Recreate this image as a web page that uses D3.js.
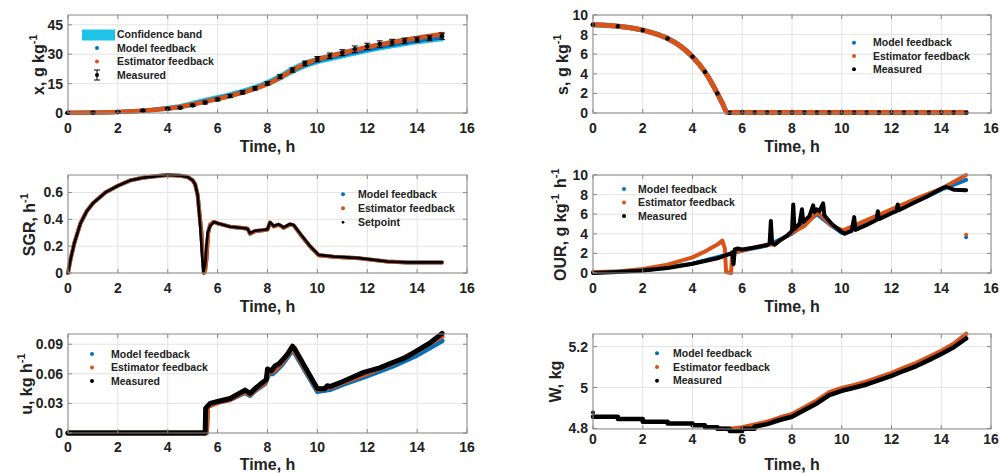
<!DOCTYPE html>
<html>
<head>
<meta charset="utf-8">
<script src="https://cdn.jsdelivr.net/npm/d3@7"></script>
<style>
  body { margin: 0; background: #fff; }
  svg { display: block; font-family: "Liberation Sans", Arial, sans-serif; font-weight: bold; }
</style>
</head>
<body>
<svg id="chart" width="1000" height="473"></svg>
<script>
// ---- shared ----
const timeTicks = [0, 2, 4, 6, 8, 10, 12, 14, 16];

// ---- panel 1: biomass x ----
const xMeasT = [0,1,2,3,4,4.5,5,5.5,6,6.5,7,7.5,8,8.5,9,9.5,10,10.5,11,11.5,12,12.5,13,13.5,14,14.5,15];
const xMeas = [0.1,0.2,0.5,1.2,2.2,2.7,3.9,5.3,6.9,8.7,10.5,12.6,15.1,18.5,21.9,25.3,27.5,29.2,30.8,32.5,34.0,35.2,36.1,36.8,37.4,38.2,39.2];
const xMeasErr = [0.3,0.3,0.3,0.4,0.5,0.5,0.6,0.7,0.7,0.8,0.8,0.9,0.9,1.0,1.1,1.2,1.3,1.4,1.5,1.7,1.6,1.6,1.5,1.4,1.3,1.3,1.6];
const xCurveT = xMeasT;
const xEst = [0.1,0.2,0.5,1.1,2.3,3.1,4.3,5.8,7.2,8.7,10.4,12.4,14.8,18.0,21.8,25.0,27.4,29.0,30.6,32.1,33.6,34.9,36.1,37.2,38.3,39.3,40.3];
const xModel = [0.1,0.2,0.5,1.1,2.4,3.2,4.5,6.1,7.5,9.0,10.7,12.7,15.1,18.2,21.6,24.4,26.6,28.1,29.6,31.0,32.4,33.6,34.8,35.8,36.8,37.7,38.5];
const xBandLo = [0,0.1,0.3,0.8,1.9,2.7,3.9,5.4,6.8,8.3,10.0,12.0,14.3,17.3,20.6,23.5,25.6,27.1,28.6,30.0,31.4,32.6,33.8,34.8,35.8,36.6,37.3];
const xBandHi = [0.3,0.4,0.8,1.5,3.0,3.9,5.4,7.0,8.4,9.9,11.6,13.7,16.2,19.4,23.0,25.9,28.0,29.5,31.1,32.6,34.1,35.3,36.6,37.6,38.7,39.6,40.5];

// ---- panel 2: substrate s ----
const sMeasT = [0,1,2,3,4,4.5,5,5.5,6,6.5,7,7.5,8,8.5,9,9.5,10,10.5,11,11.5,12,12.5,13,13.5,14,14.5,15];
const sMeas = [9.0,8.85,8.45,7.6,5.75,4.2,2.0,0.03,0.08,0.06,0.06,0.05,0.05,0.05,0.05,0.05,0.05,0.05,0.05,0.05,0.05,0.05,0.05,0.05,0.05,0.05,0.04];
const sCurveT = [0,0.5,1,1.5,2,2.5,3,3.5,4,4.5,5,5.2,5.4,5.5,6,8,10,12,14,15];
const sEst = [9.0,8.96,8.86,8.7,8.46,8.1,7.6,6.85,5.75,4.2,2.0,1.0,0.05,0.04,0.05,0.04,0.04,0.04,0.04,0.04];
const sModel = [9.0,8.96,8.86,8.7,8.46,8.1,7.6,6.85,5.75,4.2,2.0,1.0,0.05,0.04,0.05,0.04,0.04,0.04,0.04,0.04];

// ---- panel 3: specific growth rate ----
const sgrT = [0,0.1,0.25,0.5,0.75,1,1.5,2,2.5,3,3.5,4,4.5,4.8,5.0,5.1,5.2,5.3,5.38,5.43,5.5,5.55,5.6,5.7,5.85,6,6.5,7,7.2,7.3,7.5,7.8,8.0,8.1,8.25,8.45,8.65,8.9,9.05,9.3,9.7,10.05,10.65,11.7,12.8,13.6,15];
const sgrSet = [0,0.1,0.22,0.37,0.46,0.52,0.6,0.65,0.69,0.71,0.72,0.73,0.725,0.715,0.69,0.66,0.58,0.35,0.12,0.01,0.06,0.2,0.3,0.35,0.38,0.37,0.345,0.335,0.33,0.296,0.315,0.32,0.326,0.378,0.35,0.363,0.34,0.365,0.358,0.296,0.202,0.135,0.123,0.111,0.086,0.079,0.079];
const sgrEstT = [0,0.1,0.25,0.5,0.75,1,1.5,2,2.5,3,3.5,4,4.5,4.8,5.0,5.1,5.2,5.35,5.45,5.5,5.55,5.62,5.7,5.85,6,6.5,7,7.2,7.3,7.5,7.8,8.0,8.1,8.25,8.45,8.65,8.9,9.05,9.3,9.7,10.05,10.65,11.7,12.8,13.6,15];
const sgrEst = [0,0.1,0.22,0.37,0.46,0.52,0.6,0.65,0.69,0.71,0.72,0.73,0.725,0.715,0.69,0.66,0.58,0.3,0.0,0.02,0.1,0.3,0.36,0.38,0.37,0.345,0.335,0.33,0.293,0.312,0.318,0.324,0.375,0.347,0.36,0.337,0.362,0.355,0.293,0.2,0.133,0.121,0.109,0.085,0.078,0.078];

// ---- panel 4: oxygen uptake rate ----
const ourMeasT = [0,1,2,3,4,5,5.5,5.6,5.65,5.7,5.8,6,6.5,7,7.1,7.15,7.2,7.3,7.5,7.8,8.0,8.05,8.1,8.3,8.4,8.45,8.7,8.85,8.9,9.0,9.1,9.25,9.3,9.6,10,10.1,10.4,10.5,10.55,11,11.4,11.45,11.5,12,12.2,12.25,12.3,13,13.5,14,14.2,14.5,15];
const ourMeas = [0.0,0.1,0.25,0.5,0.95,1.5,1.95,2.1,0.9,2.4,2.5,2.4,2.6,2.85,3.0,5.3,3.1,2.9,3.3,3.8,4.3,7.0,4.5,5.0,6.5,5.2,5.8,6.9,6.2,6.5,6.3,7.1,5.9,5.0,4.2,4.0,4.3,5.7,4.4,4.9,5.4,6.3,5.5,6.1,6.3,7.0,6.4,7.3,7.9,8.6,8.8,8.5,8.45];
const ourEstT = [0,1,2,3,4,4.5,5,5.2,5.3,5.35,5.55,5.6,6,6.5,7,7.3,7.5,8,8.5,8.8,9,9.3,9.6,10,10.1,11,12,13,14,15];
const ourEst = [0.1,0.15,0.4,0.85,1.6,2.2,2.9,3.3,2.5,0.1,0.0,2.1,2.3,2.6,2.9,2.9,3.3,4.1,4.8,5.6,6.2,5.6,4.8,4.4,4.4,5.4,6.5,7.6,8.6,10.0];
const ourModelT = [0,2,4,5.5,6,7,8,9,9.5,10,11,12,13,14,15];
const ourModel = [0.05,0.25,0.95,1.95,2.3,2.8,4.0,6.0,5.0,4.1,5.1,6.2,7.3,8.5,9.5];
const ourOutlierT = [15];
const ourOutlierEst = [3.9];
const ourOutlierModel = [3.65];

// ---- panel 5: feed rate u ----
const uMeasT = [0,5.5,5.52,5.7,6,6.5,7.1,7.3,7.5,7.84,7.95,8.0,8.15,8.3,8.45,8.6,8.8,9.0,9.1,10.0,10.3,10.4,10.5,11,11.86,12.5,13.07,13.5,14.1,14.5,15];
const uMeas = [0,0,0.025,0.03,0.032,0.035,0.0435,0.04,0.045,0.052,0.054,0.065,0.063,0.068,0.070,0.074,0.08,0.088,0.085,0.045,0.045,0.048,0.047,0.052,0.0615,0.066,0.072,0.076,0.085,0.091,0.101];
const uEstT = [0,5.55,5.6,6,6.5,7.1,7.3,7.5,7.9,8.05,8.2,8.45,8.6,9.0,9.1,10,10.5,11,12,13,14,15];
const uEst = [0,0,0.027,0.031,0.034,0.042,0.039,0.044,0.051,0.062,0.062,0.068,0.072,0.086,0.083,0.044,0.046,0.051,0.0605,0.0705,0.083,0.098];
const uModel = [0,0,0.027,0.031,0.034,0.041,0.038,0.043,0.05,0.06,0.06,0.066,0.07,0.084,0.081,0.042,0.044,0.049,0.058,0.0675,0.079,0.0935];

// ---- panel 6: broth weight W ----
const wStepT = [0,1,2,3,4,4.5,5,5.5,6,6.5];
const wStep = [4.857,4.846,4.832,4.824,4.815,4.805,4.798,4.787,4.798,4.808];
const wRiseT = [6.5,7,7.5,8,8.5,9,9.5,10,10.5,11,11.5,12,12.5,13,13.5,14,14.5,15];
const wRise = [4.808,4.821,4.841,4.857,4.89,4.922,4.963,4.984,4.999,5.015,5.036,5.057,5.082,5.105,5.134,5.164,5.197,5.24];
const wEstT = [5,5.5,6,6.5,7,7.5,8,8.5,9,9.5,10,10.5,11,11.5,12,12.5,13,13.5,14,14.5,15];
const wEst = [4.80,4.797,4.805,4.818,4.832,4.852,4.869,4.902,4.936,4.976,4.997,5.012,5.029,5.05,5.071,5.096,5.12,5.149,5.179,5.213,5.262];
const wStartT = [0];
const wStart = [4.878];

// ---- drawing ----
const svg = d3.select("#chart");
const BLUE = "#0072BD", ORANGE = "#D95319", CYAN = "#1fc3e6", BLACK = "#000";
const zip = (ts, vs) => ts.map((t, i) => [t, vs[i]]);

function drawPanel(p) {
  const x = d3.scaleLinear().domain([0, 16]).range([p.left, p.right]);
  const y = d3.scaleLinear().domain(p.yDomain).range([p.bottom, p.top]);
  const g = svg.append("g");

  // grid
  g.selectAll(null).data(timeTicks).enter().append("line")
    .attr("x1", d => x(d)).attr("x2", d => x(d))
    .attr("y1", p.top).attr("y2", p.bottom)
    .attr("stroke", "#e3e3e3").attr("stroke-width", 1);
  g.selectAll(null).data(p.yTicks).enter().append("line")
    .attr("x1", p.left).attr("x2", p.right)
    .attr("y1", d => y(d)).attr("y2", d => y(d))
    .attr("stroke", "#e3e3e3").attr("stroke-width", 1);

  // series
  p.series.forEach(s => {
    if (s.type === "area") {
      const area = d3.area().x(d => x(d[0])).y0(d => y(d[1])).y1(d => y(d[2]))
        .curve(d3.curveMonotoneX);
      g.append("path").datum(s.t.map((t, i) => [t, s.lo[i], s.hi[i]]))
        .attr("d", area).attr("fill", s.color)
        .attr("stroke", s.color).attr("stroke-width", 3);
    } else if (s.type === "line") {
      const line = d3.line().x(d => x(d[0])).y(d => y(d[1]))
        .curve(s.curve || d3.curveLinear);
      g.append("path").datum(zip(s.t, s.v))
        .attr("d", line).attr("fill", "none")
        .attr("stroke", s.color).attr("stroke-width", s.width)
        .attr("stroke-linejoin", "round").attr("stroke-linecap", "round");
    } else if (s.type === "dots") {
      g.selectAll(null).data(zip(s.t, s.v)).enter().append("circle")
        .attr("cx", d => x(d[0])).attr("cy", d => y(d[1]))
        .attr("r", s.r).attr("fill", s.color);
    } else if (s.type === "err") {
      const data = s.t.map((t, i) => [t, s.v[i], s.e[i]]);
      const eg = g.selectAll(null).data(data).enter().append("g");
      eg.append("line")
        .attr("x1", d => x(d[0])).attr("x2", d => x(d[0]))
        .attr("y1", d => y(d[1] - d[2])).attr("y2", d => y(d[1] + d[2]))
        .attr("stroke", BLACK).attr("stroke-width", 1);
      [-1, 1].forEach(sg => {
        eg.append("line")
          .attr("x1", d => x(d[0]) - 3).attr("x2", d => x(d[0]) + 3)
          .attr("y1", d => y(d[1] + sg * d[2])).attr("y2", d => y(d[1] + sg * d[2]))
          .attr("stroke", BLACK).attr("stroke-width", 1);
      });
      eg.append("circle").attr("cx", d => x(d[0])).attr("cy", d => y(d[1]))
        .attr("r", 2.3).attr("fill", BLACK);
    }
  });

  // box and inside ticks
  g.append("rect").attr("x", p.left).attr("y", p.top)
    .attr("width", p.right - p.left).attr("height", p.bottom - p.top)
    .attr("fill", "none").attr("stroke", "#8a8a8a").attr("stroke-width", 1);
  const tl = 4;
  timeTicks.forEach(t => {
    g.append("line").attr("x1", x(t)).attr("x2", x(t)).attr("y1", p.bottom).attr("y2", p.bottom - tl).attr("stroke", "#8a8a8a");
    g.append("line").attr("x1", x(t)).attr("x2", x(t)).attr("y1", p.top).attr("y2", p.top + tl).attr("stroke", "#8a8a8a");
  });
  p.yTicks.forEach(v => {
    g.append("line").attr("x1", p.left).attr("x2", p.left + tl).attr("y1", y(v)).attr("y2", y(v)).attr("stroke", "#8a8a8a");
    g.append("line").attr("x1", p.right).attr("x2", p.right - tl).attr("y1", y(v)).attr("y2", y(v)).attr("stroke", "#8a8a8a");
  });

  // tick labels
  g.selectAll(null).data(timeTicks).enter().append("text")
    .attr("x", d => x(d)).attr("y", p.bottom + p.xLabOff)
    .attr("dy", "0.36em").attr("text-anchor", "middle")
    .attr("font-size", 14).attr("fill", "#222").text(d => d);
  g.selectAll(null).data(p.yTicks).enter().append("text")
    .attr("x", p.left - 5).attr("y", d => y(d))
    .attr("dy", "0.36em").attr("text-anchor", "end")
    .attr("font-size", 14).attr("fill", "#222").text(d => String(d));

  // axis titles
  g.append("text").attr("x", (p.left + p.right) / 2).attr("y", p.bottom + p.xTitleOff)
    .attr("dy", "0.36em").attr("text-anchor", "middle")
    .attr("font-size", 16).attr("fill", "#222").text("Time, h");
  const yt = g.append("text")
    .attr("transform", `translate(${p.yTitleX},${(p.top + p.bottom) / 2}) rotate(-90)`)
    .attr("text-anchor", "middle").attr("dy", "0.36em")
    .attr("font-size", 16).attr("fill", "#222");
  p.yTitle.forEach(part => {
    if (part.sup) {
      yt.append("tspan").attr("font-size", 11).attr("dy", -7).text(part.text);
      yt.append("tspan").attr("dy", 7).text("\u200a");
    } else {
      yt.append("tspan").text(part.text);
    }
  });

  // legend
  const L = p.legend;
  L.items.forEach((it, i) => {
    const cy = L.y0 + i * L.dy;
    if (it.kind === "band") {
      g.append("rect").attr("x", L.dotX - 15).attr("y", cy - 5)
        .attr("width", 33).attr("height", 11).attr("fill", it.color);
    } else if (it.kind === "err") {
      g.append("line").attr("x1", L.dotX).attr("x2", L.dotX).attr("y1", cy - 5).attr("y2", cy + 5).attr("stroke", BLACK);
      g.append("line").attr("x1", L.dotX - 3).attr("x2", L.dotX + 3).attr("y1", cy - 5).attr("y2", cy - 5).attr("stroke", BLACK);
      g.append("line").attr("x1", L.dotX - 3).attr("x2", L.dotX + 3).attr("y1", cy + 5).attr("y2", cy + 5).attr("stroke", BLACK);
      g.append("circle").attr("cx", L.dotX).attr("cy", cy).attr("r", 2).attr("fill", BLACK);
    } else {
      g.append("circle").attr("cx", L.dotX).attr("cy", cy).attr("r", it.r || 2).attr("fill", it.color);
    }
    g.append("text").attr("x", L.textX).attr("y", cy).attr("dy", "0.36em")
      .attr("font-size", 10.5).attr("fill", "#222").text(it.label);
  });
}

const stdLegend = [
  { label: "Model feedback", color: BLUE },
  { label: "Estimator feedback", color: ORANGE },
  { label: "Measured", color: BLACK }
];

drawPanel({
  left: 68, right: 467, top: 15, bottom: 113, xLabOff: 14.5, xTitleOff: 33,
  yDomain: [0, 50], yTicks: [0, 15, 30, 45], yTitleX: 38,
  yTitle: [{ text: "x, g kg" }, { text: "-1", sup: true }],
  series: [
    { type: "area", t: xCurveT, lo: xBandLo, hi: xBandHi, color: CYAN },
    { type: "line", t: xCurveT, v: xModel, color: BLUE, width: 4, curve: d3.curveMonotoneX },
    { type: "line", t: xCurveT, v: xEst, color: ORANGE, width: 4.5, curve: d3.curveMonotoneX },
    { type: "err", t: xMeasT, v: xMeas, e: xMeasErr }
  ],
  legend: { dotX: 97, textX: 117, y0: 34.5, dy: 13.5, items: [
    { label: "Confidence band", kind: "band", color: CYAN },
    { label: "Model feedback", color: BLUE },
    { label: "Estimator feedback", color: ORANGE },
    { label: "Measured", kind: "err" }
  ] }
});

drawPanel({
  left: 593, right: 991, top: 15, bottom: 113, xLabOff: 14.5, xTitleOff: 33,
  yDomain: [0, 10], yTicks: [0, 2, 4, 6, 8, 10], yTitleX: 562,
  yTitle: [{ text: "s, g kg" }, { text: "-1", sup: true }],
  series: [
    { type: "line", t: sCurveT, v: sModel, color: BLUE, width: 5, curve: d3.curveMonotoneX },
    { type: "line", t: sCurveT, v: sEst, color: ORANGE, width: 5, curve: d3.curveMonotoneX },
    { type: "dots", t: sMeasT, v: sMeas, r: 2.2, color: BLACK }
  ],
  legend: { dotX: 854, textX: 873, y0: 42.7, dy: 13.3, items: stdLegend }
});

drawPanel({
  left: 68, right: 467, top: 175, bottom: 273, xLabOff: 14.5, xTitleOff: 33,
  yDomain: [0, 0.73], yTicks: [0, 0.2, 0.4, 0.6], yTitleX: 29,
  yTitle: [{ text: "SGR, h" }, { text: "-1", sup: true }],
  series: [
    { type: "line", t: sgrEstT, v: sgrEst, color: BLUE, width: 4 },
    { type: "line", t: sgrEstT, v: sgrEst, color: ORANGE, width: 4 },
    { type: "line", t: sgrT, v: sgrSet, color: BLACK, width: 2.6 }
  ],
  legend: { dotX: 343, textX: 358, y0: 194.3, dy: 14, items: [
    { label: "Model feedback", color: BLUE },
    { label: "Estimator feedback", color: ORANGE },
    { label: "Setpoint", color: BLACK, r: 1.4 }
  ] }
});

drawPanel({
  left: 593, right: 991, top: 175, bottom: 273, xLabOff: 14.5, xTitleOff: 33,
  yDomain: [0, 10], yTicks: [0, 2, 4, 6, 8, 10], yTitleX: 560,
  yTitle: [{ text: "OUR, g kg" }, { text: "-1", sup: true }, { text: " h" }, { text: "-1", sup: true }],
  series: [
    { type: "line", t: ourModelT, v: ourModel, color: BLUE, width: 4 },
    { type: "line", t: ourEstT, v: ourEst, color: ORANGE, width: 4 },
    { type: "line", t: ourMeasT, v: ourMeas, color: BLACK, width: 4 },
    { type: "dots", t: ourOutlierT, v: ourOutlierModel, r: 2, color: BLUE },
    { type: "dots", t: ourOutlierT, v: ourOutlierEst, r: 2, color: ORANGE }
  ],
  legend: { dotX: 624, textX: 638, y0: 189, dy: 13.5, items: stdLegend }
});

drawPanel({
  left: 68, right: 467, top: 334, bottom: 433, xLabOff: 13.5, xTitleOff: 31,
  yDomain: [0, 0.1004], yTicks: [0, 0.03, 0.06, 0.09], yTitleX: 26,
  yTitle: [{ text: "u, kg h" }, { text: "-1", sup: true }],
  series: [
    { type: "line", t: uEstT, v: uModel, color: BLUE, width: 5 },
    { type: "line", t: uEstT, v: uEst, color: ORANGE, width: 5 },
    { type: "line", t: uMeasT, v: uMeas, color: BLACK, width: 5 }
  ],
  legend: { dotX: 92, textX: 111, y0: 354, dy: 13.5, items: stdLegend }
});

drawPanel({
  left: 593, right: 991, top: 334, bottom: 429, xLabOff: 10, xTitleOff: 35,
  yDomain: [4.797, 5.262], yTicks: [4.8, 5, 5.2], yTitleX: 555,
  yTitle: [{ text: "W, kg" }],
  series: [
    { type: "line", t: wEstT, v: wEst, color: ORANGE, width: 4.5 },
    { type: "line", t: wStepT, v: wStep, color: BLACK, width: 4.5, curve: d3.curveStepAfter },
    { type: "line", t: wRiseT, v: wRise, color: BLACK, width: 4.5 },
    { type: "dots", t: wStartT, v: wStart, r: 2, color: BLACK }
  ],
  legend: { dotX: 657, textX: 673, y0: 353.3, dy: 13.7, items: stdLegend }
});
</script>
</body>
</html>
